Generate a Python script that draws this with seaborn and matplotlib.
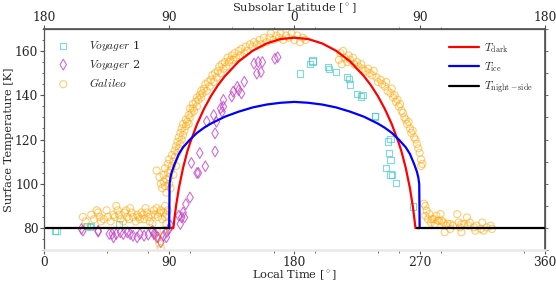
import numpy as np
import pandas as pd
import seaborn as sns
import matplotlib.pyplot as plt

sns.set_theme(style="ticks")
plt.rcParams["font.family"] = ["DejaVu Serif"]
plt.rcParams["mathtext.fontset"] = "cm"
plt.rcParams.update({"font.size": 8.2, "axes.labelsize": 8.2, "xtick.labelsize": 8.8,
                     "ytick.labelsize": 8.8, "legend.fontsize": 8.2})

# ---- model curves (local time in degrees, temperature in K) ----
lt_dark = [90, 92, 93, 94, 95, 97, 100, 103, 105, 110, 115, 120, 125, 130, 140, 150,
           160, 170, 180, 190, 200, 210, 220, 230, 235, 240, 245, 250, 255, 257,
           260, 263, 265, 266, 267, 268, 270]
t_dark = [80, 80, 80, 85.3, 90.2, 98.1, 107.2, 114.5, 118.4, 126.9, 133.8, 139.6, 144.5,
          148.6, 155.3, 160.1, 163.4, 165.4, 166, 165.4, 163.4, 160.1, 155.3, 148.6,
          144.5, 139.6, 133.8, 126.9, 118.4, 114.5, 107.2, 98.1, 90.2, 85.3, 80, 80, 80]

lt_ice = [90, 90.3, 91, 92, 94, 97, 100, 105, 110, 115, 120, 130, 140, 150, 160, 170,
          180, 190, 200, 210, 220, 230, 240, 245, 250, 255, 260, 263, 266, 268, 269,
          269.7, 270]
t_ice = [80, 100, 103, 105.5, 109, 113.5, 116.5, 120, 123, 125.3, 127.2, 130.3, 132.6,
         134.5, 135.8, 136.6, 137, 136.6, 135.8, 134.5, 132.6, 130.3, 127.2, 125.3, 123,
         120, 116.5, 113.5, 109, 105.5, 103, 100, 80]

lt_night_am = [0, 90]
lt_night_pm = [268, 360]
t_night = [80, 80]

# ---- observations ----
v1_lt = [8, 9, 31, 33, 34, 54, 184, 191, 193, 193, 204, 205, 210, 218, 219, 220, 225,
         228, 229, 238, 238, 247, 249, 248, 249, 246, 249, 250, 253, 265]
v1_t = [78.8, 78.8, 81.1, 80.3, 81.1, 81.8, 149.8, 154.3, 155.3, 155.7, 152.8, 152.0,
        150.5, 148.3, 147.5, 144.9, 140.4, 139.4, 140.0, 130.4, 130.6, 119.1, 120.1,
        113.9, 110.6, 107.2, 104.2, 103.8, 100.5, 89.7]

v2_lt = [27, 28, 39, 39, 47, 49, 50, 52, 55, 57, 60, 62, 64, 67, 69, 72, 75, 78, 79, 80,
         81, 82, 84, 86, 88, 88, 90, 91, 97, 98, 99, 100, 101, 102, 105, 106, 110, 111,
         112, 116, 117, 122, 123, 123, 124, 127, 128, 129, 129, 135, 136, 139, 140, 142,
         144, 151, 153, 154, 156, 157, 166, 168]
v2_t = [79.6, 78.8, 78.4, 78.8, 77.3, 77.3, 75.8, 77.3, 78.0, 77.3, 78.0, 77.3, 76.5,
        75.8, 77.3, 76.5, 77.0, 78.8, 77.3, 77.3, 75.9, 75.8, 73.6, 76.5, 75.8, 78.0,
        79.6, 81.1, 85.6, 81.8, 84.8, 87.0, 84.8, 90.8, 93.8, 109.4, 104.9, 104.9, 113.9,
        107.9, 128.2, 131.0, 114.6, 122.8, 128.0, 134.1, 132.5, 134.9, 137.9, 139.4,
        141.6, 143.8, 142.3, 140.8, 146.1, 154.3, 149.8, 155.0, 150.5, 155.0, 156.5, 157.2]

gal_lt = [28, 30, 34, 36, 38, 39, 40, 41, 43, 45, 46, 48, 50, 51, 52, 53, 54, 55, 57, 58,
          59, 60, 61, 62, 63, 64, 66, 67, 68, 69, 70, 71, 72, 73, 74, 75, 76, 77, 78, 79,
          80, 81, 82, 82, 83, 83, 84, 84, 85, 86, 86, 87, 87, 88, 88, 89,
          81, 83, 84, 85, 86, 86, 87, 87, 88, 88, 89, 89, 90, 90, 90, 91, 91, 92, 92, 93,
          93, 94, 94, 95, 95, 96, 96, 97, 97, 98, 98, 99, 99, 100, 100, 101, 102, 102, 103,
          104, 104, 105, 105, 106, 107, 107, 108, 109, 110, 110, 111, 112, 113, 113, 114,
          115, 116, 117, 118, 119, 120, 121, 122, 123, 124, 125, 126, 127, 128, 129, 130,
          131, 132, 133, 134, 135, 136, 137, 138, 140, 141, 142, 144, 145, 146, 148, 150,
          151, 153, 155, 156, 158, 160, 162, 163, 165, 167, 169, 170, 172, 174, 176, 178,
          180, 182, 184, 186, 188,
          212, 213, 214, 215, 216, 218, 219, 220, 222, 223, 225, 226, 228, 229, 231, 233,
          234, 236, 237, 239, 240, 242, 243, 245, 246, 247, 249, 250, 251, 252, 253, 254,
          255, 256, 257, 258, 259, 260, 261, 262, 263, 264, 265, 266, 267, 268, 269, 270,
          271, 271, 272,
          273, 274, 274, 275, 276, 277, 278, 279, 280, 281, 282, 283, 284, 285, 286, 287,
          288, 289, 290, 292, 292, 294, 297, 298, 299, 300, 300, 302, 304, 305, 306, 309,
          310, 311, 314, 315, 316, 318, 321, 322]
gal_t = [85, 83, 86, 84, 88, 87, 85, 83, 84, 88, 85, 83, 86, 85, 90, 88, 86, 84, 83, 87,
         88, 85, 84, 89, 87, 85, 83, 86, 85, 84, 87, 86, 84, 89, 87, 85, 83, 86, 82, 88,
         86, 89, 85, 76, 87, 73, 88, 71, 84, 87, 79, 90, 85, 86, 82, 88,
         106, 103, 100, 98, 101, 104, 99, 107, 102, 96, 105, 109, 100, 103, 111, 106, 98,
         108, 113, 104, 110, 115, 112, 117, 108, 114, 119, 116, 121, 118, 123, 120, 125,
         122, 127, 124, 126, 129, 128, 131, 127, 130, 134, 132, 134, 136, 133, 137, 135,
         139, 138, 140, 139, 142, 141, 143, 145, 142, 146, 144, 147, 149, 146, 150, 148,
         151, 153, 150, 154, 152, 155, 153, 157, 155, 156, 158, 156, 159, 157, 160, 158,
         161, 159, 162, 160, 163, 162, 164, 163, 165, 163, 166, 164, 166, 168, 165, 167,
         166, 168, 165, 167, 166, 168, 165, 167, 164, 166, 165,
         156, 159, 154, 160, 157, 155, 158, 156, 157, 154, 155, 153, 154, 152, 151, 152,
         150, 149, 151, 148, 146, 147, 145, 144, 146, 142, 141, 143, 139, 140, 137, 138,
         135, 136, 133, 132, 130, 129, 127, 128, 125, 123, 124, 121, 120, 118, 116, 114,
         111, 108, 109,
         91, 90, 85.5, 87.8, 84.0, 86.3, 82.5, 84.0, 84.0, 81.8, 85.5, 83.3, 83.3, 86.3,
         83.3, 82.5, 78.1, 81.1, 82.0, 81.8, 79.6, 81.1, 86.3, 82.5, 80.3, 78.1, 81.8,
         81.8, 84.8, 81.1, 82.5, 80.3, 78.8, 81.1, 79.6, 82.5, 78.8, 80.3, 81.1, 79.6]

v1 = pd.DataFrame({"lt": v1_lt, "T": v1_t})
v2 = pd.DataFrame({"lt": v2_lt, "T": v2_t})
gal = pd.DataFrame({"lt": gal_lt, "T": gal_t})

fig = plt.figure(figsize=(5.56, 2.83), dpi=100)
ax = fig.add_axes([0.079, 0.116, 0.901, 0.782])

sns.scatterplot(data=v1, x="lt", y="T", marker="s", s=20, facecolor="none",
                edgecolor="#3cc8c8", linewidth=0.8, alpha=0.65, label="$Voyager$ 1", ax=ax)
sns.scatterplot(data=v2, x="lt", y="T", marker="d", s=30, facecolor="none",
                edgecolor="#c23cc8", linewidth=0.8, alpha=0.75, label="$Voyager$ 2", ax=ax)
sns.scatterplot(data=gal, x="lt", y="T", marker="o", s=26, facecolor="none",
                edgecolor="orange", linewidth=0.8, alpha=0.55, label="$Galileo$", ax=ax)

sns.lineplot(x=lt_dark, y=t_dark, color="red", lw=1.6, sort=False, estimator=None,
             label=r"$T_{\rm dark}$", ax=ax)
sns.lineplot(x=lt_ice, y=t_ice, color="blue", lw=1.6, sort=False, estimator=None,
             label=r"$T_{\rm ice}$", ax=ax)
sns.lineplot(x=lt_night_am, y=t_night, color="black", lw=1.6, sort=False, estimator=None,
             label=r"$T_{\rm night-side}$", ax=ax)
sns.lineplot(x=lt_night_pm, y=t_night, color="black", lw=1.6, sort=False, estimator=None,
             ax=ax)

ax.set_xlim(0, 360)
ax.set_ylim(70, 170)
ax.set_xticks([0, 90, 180, 270, 360])
ax.set_xticks([45, 75, 105, 165, 195, 240, 255, 285, 345], minor=True)
ax.set_yticks([80, 100, 120, 140, 160])
ax.set_yticks(np.arange(70, 171, 5), minor=True)
ax.set_xlabel("Local Time [$^\\circ$]", labelpad=0)
ax.set_ylabel("Surface Temperature [K]", labelpad=1)
ax.tick_params(which="major", length=3, width=0.8, color="#555555", pad=1)
ax.tick_params(which="minor", length=1.8, width=0.6, color="#555555")
for side in ["left", "right", "top"]:
    ax.spines[side].set_color("#555555")
    ax.spines[side].set_linewidth(0.9)
ax.spines["bottom"].set_color("#e8e8e8")
ax.spines["bottom"].set_linewidth(1.8)

right = ax.secondary_yaxis("right")
right.set_yticks(np.arange(70, 171, 10))
right.set_yticklabels([])
right.tick_params(length=2.5, width=0.6, color="#555555")
right.spines["right"].set_color("#555555")

top = ax.secondary_xaxis("top")
top.set_xticks([0, 90, 180, 270, 360])
top.set_xticklabels(["180", "90", "0", "90", "180"])
top.set_xticks([135, 150, 165, 195, 255, 285], minor=True)
top.tick_params(which="major", length=3, width=0.8, color="#555555", pad=0.5)
top.tick_params(which="minor", length=1.8, width=0.6, color="#555555")
top.spines["top"].set_color("#555555")
top.set_xlabel("Subsolar Latitude [$^\\circ$]", labelpad=0)

handles, labels = ax.get_legend_handles_labels()
leg1 = ax.legend(handles[:3], labels[:3], loc="upper left", frameon=False,
                 bbox_to_anchor=(0.0, 0.99), borderaxespad=0.3, handletextpad=1.3,
                 labelspacing=0.4)
ax.add_artist(leg1)
ax.legend(handles[3:], labels[3:], loc="upper right", frameon=False,
          bbox_to_anchor=(0.99, 0.975), borderaxespad=0.2, handlelength=2.6,
          handletextpad=0.5, labelspacing=0.45)

fig.savefig("out.png", dpi=100)
